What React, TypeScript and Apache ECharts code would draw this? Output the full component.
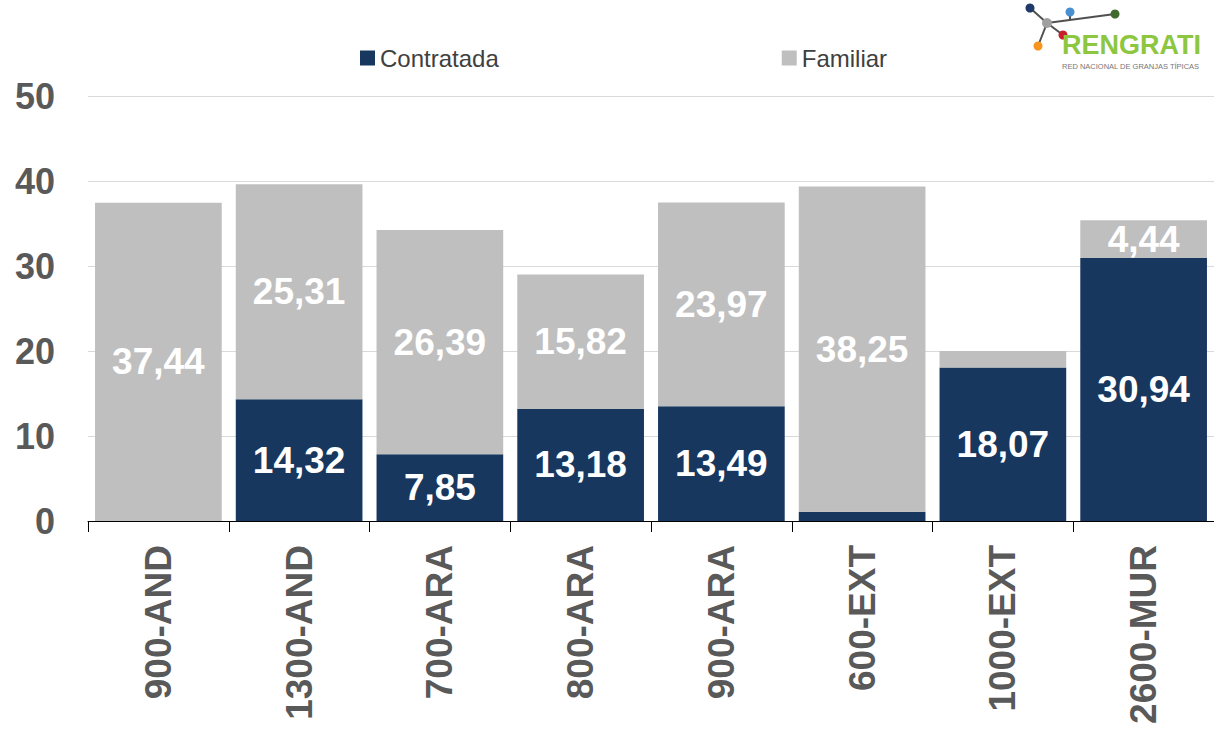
import React, { useEffect, useRef } from "react";
import * as echarts from "echarts";

const categories = ["900-AND", "1300-AND", "700-ARA", "800-ARA", "900-ARA", "600-EXT", "1000-EXT", "2600-MUR"];
const contratada = [0, 14.32, 7.85, 13.18, 13.49, 1.1, 18.07, 30.94];
const familiar = [37.44, 25.31, 26.39, 15.82, 23.97, 38.25, 1.93, 4.44];
const yTicks = [0, 10, 20, 30, 40, 50];
const MIN_LABEL = 3;

const FONT = "Liberation Sans, Arial, sans-serif";
const fmt = (v: number) => v.toFixed(2).replace(".", ",");

export default function App() {
  const ref = useRef<HTMLDivElement>(null);
  useEffect(() => {
    if (!ref.current) return;
    const chart = echarts.init(ref.current, null, { renderer: "svg" });
    const labelStyle = {
      color: "#ffffff",
      fontSize: 37,
      fontWeight: "bold" as const,
      fontFamily: FONT,
    };
    const mk = (arr: number[]) =>
      arr.map((v) => ({ value: v, label: { show: v >= MIN_LABEL } }));
    const line = (x1: number, y1: number, x2: number, y2: number) => ({
      type: "line",
      shape: { x1, y1, x2, y2 },
      style: { stroke: "#505050", lineWidth: 2 },
    });
    const dot = (cx: number, cy: number, fill: string, r = 4.5) => ({
      type: "circle",
      shape: { cx, cy, r },
      style: { fill },
    });
    chart.setOption({
      animation: false,
      textStyle: { fontFamily: FONT },
      legend: {
        top: 41,
        left: 355,
        itemWidth: 15,
        itemHeight: 15,
        itemGap: 283,
        icon: "rect",
        textStyle: { fontSize: 24, color: "#404040", fontFamily: FONT },
        data: ["Contratada", "Familiar"],
      },
      grid: { left: 88, right: -7, top: 96, bottom: 210, containLabel: false },
      xAxis: {
        type: "category",
        data: categories,
        axisLine: { lineStyle: { color: "#000000", width: 1 } },
        axisTick: { show: true, length: 11, lineStyle: { color: "#000000" } },
        axisLabel: {
          rotate: 90,
          fontSize: 37,
          fontWeight: "bold",
          color: "#595959",
          margin: 24,
          fontFamily: FONT,
        },
      },
      yAxis: {
        type: "value",
        min: yTicks[0],
        max: yTicks[yTicks.length - 1],
        interval: 10,
        axisLine: { show: false },
        axisTick: { show: false },
        splitLine: { lineStyle: { color: "#d9d9d9", width: 1 } },
        axisLabel: {
          fontSize: 36,
          fontWeight: "bold",
          color: "#595959",
          margin: 33,
          fontFamily: FONT,
        },
      },
      series: [
        {
          name: "Contratada",
          type: "bar",
          stack: "t",
          barCategoryGap: "10%",
          itemStyle: { color: "#17375e" },
          label: { show: true, position: "inside", formatter: (p: any) => fmt(p.value), ...labelStyle },
          data: mk(contratada),
        },
        {
          name: "Familiar",
          type: "bar",
          stack: "t",
          barCategoryGap: "10%",
          itemStyle: { color: "#bfbfbf" },
          label: { show: true, position: "inside", formatter: (p: any) => fmt(p.value), ...labelStyle },
          data: mk(familiar),
        },
      ],
      graphic: [
        {
          type: "group",
          x: 0,
          y: 0,
          children: [
            line(1030, 8, 1047, 23),
            line(1047, 23, 1115, 14),
            line(1070, 12, 1070, 20),
            line(1047, 23, 1038, 46),
            line(1047, 23, 1063, 35),
            dot(1030, 8, "#1f3a68"),
            dot(1070, 12, "#4a8fd0"),
            dot(1115, 14, "#3f6b2f"),
            dot(1047, 23, "#a0a0a0", 5),
            dot(1063, 35, "#c8202a"),
            dot(1038, 46, "#f7941d"),
            {
              type: "text",
              x: 1062,
              y: 31,
              style: { text: "RENGRATI", fill: "#8dc63f", fontSize: 27, fontWeight: "bold", fontFamily: FONT },
            },
            {
              type: "text",
              x: 1062,
              y: 62,
              style: { text: "RED NACIONAL DE GRANJAS TÍPICAS", fill: "#777777", fontSize: 7.5, fontFamily: FONT },
            },
          ],
        },
      ],
    });
    return () => chart.dispose();
  }, []);
  return <div ref={ref} style={{ width: 1214, height: 731, position: "absolute", left: 0, top: 0 }} />;
}
